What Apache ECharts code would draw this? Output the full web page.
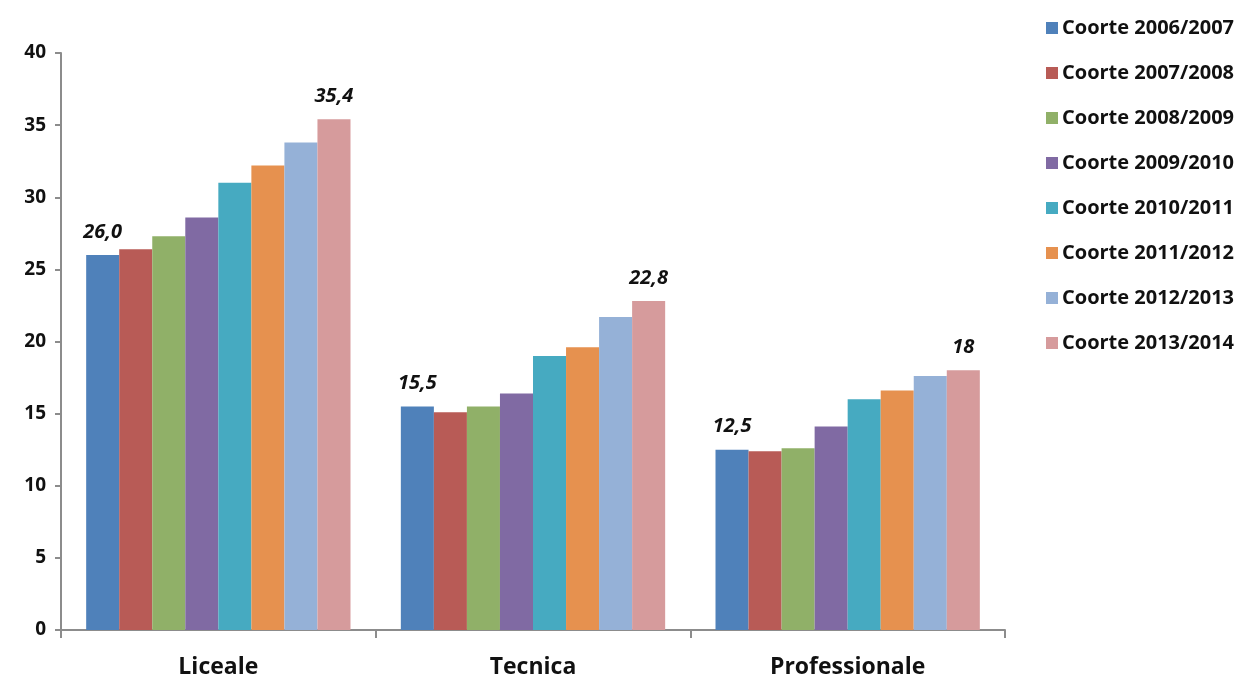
<!DOCTYPE html>
<html>
<head>
<meta charset="utf-8">
<script src="https://cdn.jsdelivr.net/npm/echarts@6/dist/echarts.min.js"></script>
<style>
  html, body { margin: 0; padding: 0; background: #fff; }
  #chart { width: 1244px; height: 680px; }
</style>
</head>
<body>
<div id="chart"></div>
<script>
const categories = ['Liceale', 'Tecnica', 'Professionale']
const cohorts = [
  'Coorte 2006/2007', 'Coorte 2007/2008', 'Coorte 2008/2009', 'Coorte 2009/2010',
  'Coorte 2010/2011', 'Coorte 2011/2012', 'Coorte 2012/2013', 'Coorte 2013/2014'
]
// values per cohort: [Liceale, Tecnica, Professionale]
const c0607 = [26.0, 15.5, 12.5]
const c0708 = [26.4, 15.1, 12.4]
const c0809 = [27.3, 15.5, 12.6]
const c0910 = [28.6, 16.4, 14.1]
const c1011 = [31.0, 19.0, 16.0]
const c1112 = [32.2, 19.6, 16.6]
const c1213 = [33.8, 21.7, 17.6]
const c1314 = [35.4, 22.8, 18.0]
const firstLabels = ['26,0', '15,5', '12,5']
const lastLabels = ['35,4', '22,8', '18']
const yTicks = [0, 5, 10, 15, 20, 25, 30, 35, 40]

const colors = ['#4F81BA', '#B85B56', '#90B068', '#806AA3', '#46AAC1', '#E6914F', '#95B1D7', '#D69B9C']
const values = [c0607, c0708, c0809, c0910, c1011, c1112, c1213, c1314]

const chart = echarts.init(document.getElementById('chart'))

// etichette solo sulla prima e sull'ultima coorte
const series = values.map((vals, i) => {
  let texts = null
  if (i === 0) texts = firstLabels
  if (i === values.length - 1) texts = lastLabels
  return {
    name: cohorts[i],
    type: 'bar',
    data: vals,
    barGap: '0%',
    barCategoryGap: '16%',
    itemStyle: { color: colors[i] },
    label: {
      show: texts !== null,
      position: 'top',
      distance: 13,
      formatter: p => texts ? texts[p.dataIndex] : '',
      color: '#111',
      fontFamily: 'Open Sans',
      fontWeight: 'bold',
      fontStyle: 'italic',
      fontSize: 20
    }
  }
})

const option = {
  animation: false,
  backgroundColor: '#fff',
  color: colors,
  grid: { left: 61, right: 239, top: 53, bottom: 50 },
  legend: {
    orient: 'vertical',
    left: 1041,
    top: 9,
    itemWidth: 12,
    itemHeight: 12,
    itemGap: 17,
    icon: 'rect',
    textStyle: {
      color: '#111',
      fontFamily: 'Open Sans',
      fontWeight: 'bold',
      fontSize: 20,
      lineHeight: 28,
      padding: [0, 0, 0, -1]
    },
    data: cohorts
  },
  xAxis: {
    type: 'category',
    data: categories,
    axisLine: { lineStyle: { color: '#8c8c8c', width: 2 } },
    axisTick: { show: true, length: 8, lineStyle: { color: '#8c8c8c', width: 2 } },
    axisLabel: {
      color: '#111',
      fontFamily: 'Open Sans',
      fontWeight: 'bold',
      fontSize: 23,
      margin: 26
    }
  },
  yAxis: {
    type: 'value',
    min: yTicks[0],
    max: yTicks[yTicks.length - 1],
    interval: 5,
    splitLine: { show: false },
    axisLine: { show: true, lineStyle: { color: '#8c8c8c', width: 2 } },
    axisTick: { show: true, length: 6, lineStyle: { color: '#8c8c8c', width: 2 } },
    axisLabel: {
      color: '#111',
      fontFamily: 'Open Sans',
      fontWeight: 'bold',
      fontSize: 19,
      margin: 15
    }
  },
  series: series
}

chart.setOption(option)
</script>
</body>
</html>
